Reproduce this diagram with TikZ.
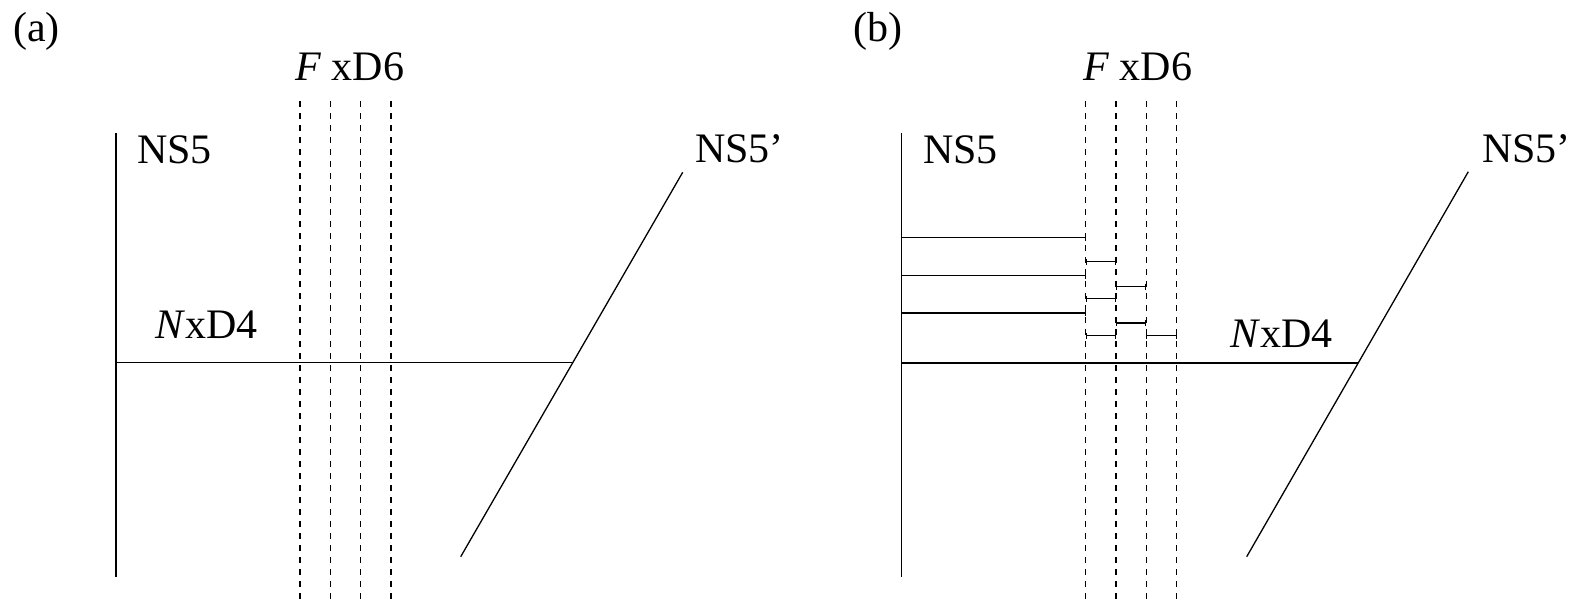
\documentclass[tikz,border=0pt]{standalone}
\usepackage{fontspec}
\setmainfont{Liberation Serif}
\usetikzlibrary{arrows.meta}
\begin{document}
\begin{tikzpicture}[x=1pt,y=-1pt,
  lbl/.style={anchor=base west,inner sep=0pt,font=\fontsize{42}{50}\selectfont},
  brane/.style={line width=1.3pt,line cap=butt},
  dsix/.style={line width=1.4pt,dash pattern=on 6pt off 6pt},
  seg/.style={line width=1.3pt},
  tk/.style={{Bar[width=6pt,line width=1.1pt]}-{Bar[width=6pt,line width=1.1pt]}},
  tkr/.style={-{Bar[width=6pt,line width=1.1pt]}}]
\useasboundingbox (0,0) rectangle (1580,600);

% ---------------- panel (a) ----------------
\node[lbl] (la) at (13,41) {(a)};
% NS5
\coordinate (aNtop) at (116,133);
\coordinate (aNbot) at (116,577);
\draw[brane] (aNtop) -- (aNbot);
\node[lbl] (aNS) at (137,163) {NS5};
% D6 dashed
\foreach \x [count=\i] in {300,330.3,360.6,390.9}{
  \coordinate (aD\i t) at (\x,101);
  \coordinate (aD\i b) at (\x,600);
  \draw[dsix] (aD\i t) -- (aD\i b);
}
\node[lbl] (aF) at (295,80) {\textit{F} xD6};
% NS5'
\coordinate (aPtop) at (682.7,172.3);
\coordinate (aPbot) at (460.7,556.7);
\draw[brane] (aPtop) -- (aPbot);
\node[lbl] (aNSp) at (695,162) {NS5'};
% D4
\coordinate (aD4l) at (116,362.7);
\coordinate (aD4r) at (572.7,362.7);
\draw[seg] (aD4l) -- (aD4r);
\node[lbl] (aN) at (155,338) {\textit{N}xD4};

% ---------------- panel (b) ----------------
\node[lbl] (lb) at (853,41) {(b)};
\coordinate (bNtop) at (901.5,133);
\coordinate (bNbot) at (901.5,577);
\draw[brane] (bNtop) -- (bNbot);
\node[lbl] (bNS) at (923,163) {NS5};
\foreach \x [count=\i] in {1085.7,1116,1146.3,1176.6}{
  \coordinate (bD\i t) at (\x,101);
  \coordinate (bD\i b) at (\x,600);
  \draw[dsix] (bD\i t) -- (bD\i b);
}
\node[lbl] (bF) at (1083,80) {\textit{F} xD6};
\coordinate (bPtop) at (1468.3,171.7);
\coordinate (bPbot) at (1246.7,556.7);
\draw[brane] (bPtop) -- (bPbot);
\node[lbl] (bNSp) at (1482,162) {NS5'};
\coordinate (bD4l) at (901.5,363);
\coordinate (bD4r) at (1358.2,363);
\draw[seg] (bD4l) -- (bD4r);
\node[lbl] (bN) at (1230,347) {\textit{N}xD4};

% broken D4 segments
\draw[seg,tkr] (901.5,237.7) -- (1085.7,237.7);
\draw[seg,tkr] (901.5,275.7) -- (1085.7,275.7);
\draw[seg,tkr] (901.5,313) -- (1085.7,313);
\draw[seg,tk] (1085.7,261.7) -- (1116,261.7);
\draw[seg,tk] (1085.7,298.7) -- (1116,298.7);
\draw[seg,tk] (1085.7,335.7) -- (1116,335.7);
\draw[seg,tk] (1116,286.7) -- (1146.3,286.7);
\draw[seg,tk] (1116,323) -- (1146.3,323);
\draw[seg,tk] (1146.3,335.7) -- (1176.6,335.7);
\end{tikzpicture}
\end{document}
